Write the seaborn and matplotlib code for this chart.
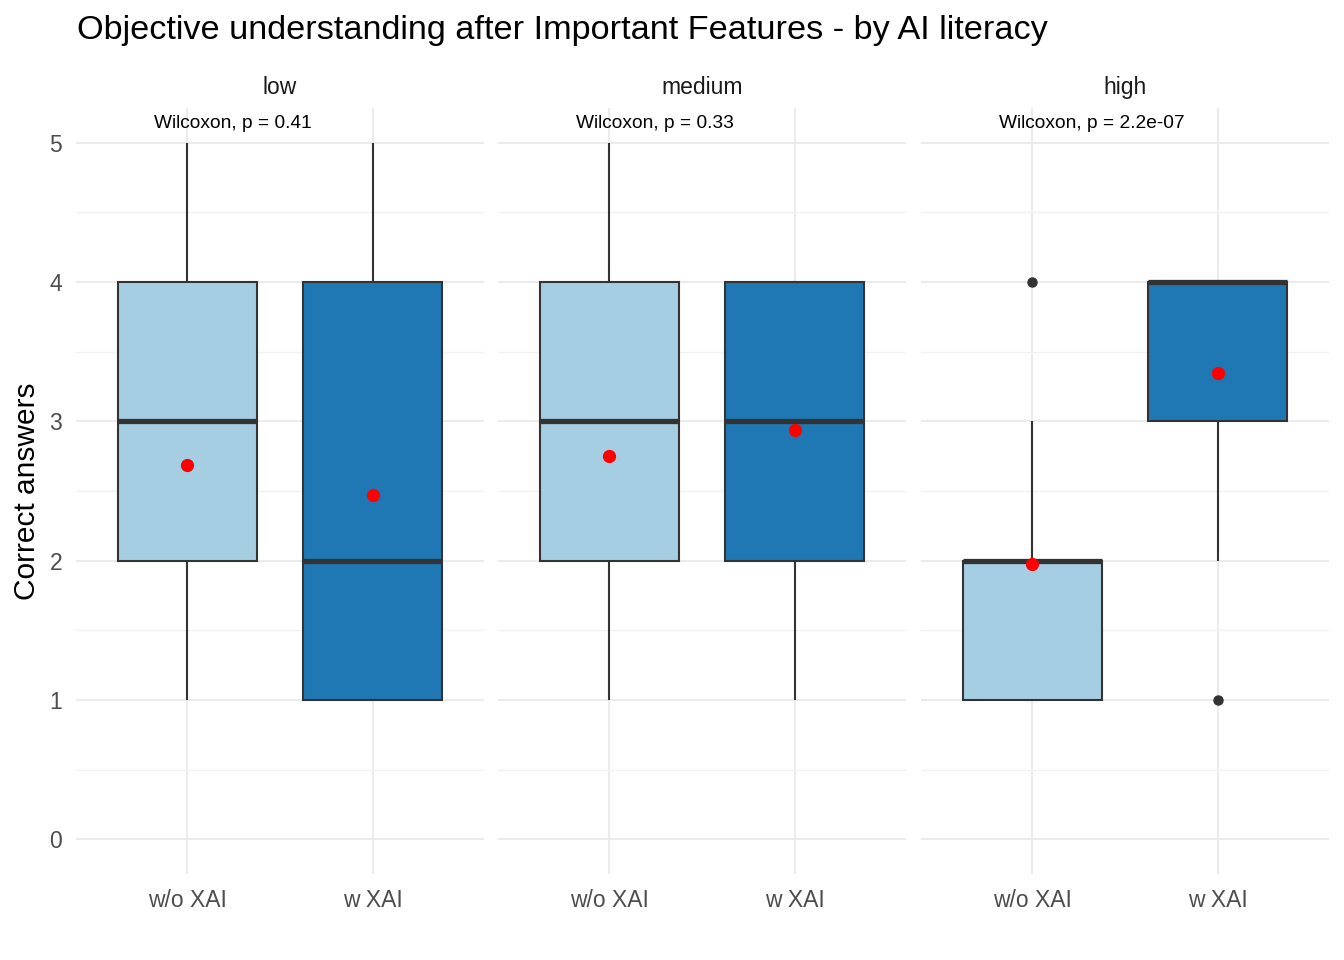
import numpy as np
import pandas as pd
import seaborn as sns
from matplotlib import pyplot as plt
from matplotlib.ticker import MultipleLocator

scores = [1, 2, 3, 4, 5]
literacy = ["low", "medium", "high"]
conditions = ["w/o XAI", "w XAI"]
counts_low_wo = [6, 8, 9, 8, 1]
counts_low_w = [9, 9, 5, 8, 1]
counts_med_wo = [5, 9, 8, 9, 1]
counts_med_w = [3, 8, 9, 12, 0]
counts_high_wo = [11, 20, 8, 1, 0]
counts_high_w = [1, 5, 13, 21, 0]
p_values = ["0.41", "0.33", "2.2e-07"]

palette = ["#A6CEE3", "#1F78B4"]

counts = {
    ("low", "w/o XAI"): counts_low_wo, ("low", "w XAI"): counts_low_w,
    ("medium", "w/o XAI"): counts_med_wo, ("medium", "w XAI"): counts_med_w,
    ("high", "w/o XAI"): counts_high_wo, ("high", "w XAI"): counts_high_w,
}
rows = []
for (lit, cond), c in counts.items():
    for v in np.repeat(scores, c):
        rows.append({"literacy": lit, "condition": cond, "correct": v})
df = pd.DataFrame(rows)

sns.set_theme(style="white")
plt.rcParams["font.family"] = ["Liberation Sans", "DejaVu Sans"]

fig = plt.figure(figsize=(13.44, 9.6), dpi=100)
W, H = 1344, 960
lefts = [76, 498, 921]
pw = 408
top, bottom = 108, 874

for i, lit in enumerate(literacy):
    ax = fig.add_axes([lefts[i] / W, 1 - bottom / H, pw / W, (bottom - top) / H])
    sub = df[df["literacy"] == lit]
    sns.boxplot(data=sub, x="condition", y="correct", hue="condition",
                order=conditions, hue_order=conditions, palette=palette,
                saturation=1, width=0.75, linecolor="#333333", linewidth=1.5,
                legend=False, showcaps=False, showmeans=True,
                medianprops=dict(linewidth=3.8, color="#333333"),
                meanprops=dict(marker="o", markerfacecolor="red", markeredgecolor="red",
                               markersize=8.5),
                flierprops=dict(marker="o", markerfacecolor="#333333",
                                markeredgecolor="#333333", markersize=6.5),
                ax=ax, zorder=3)
    ax.set_xlim(-0.6, 1.6)
    ax.set_ylim(-0.25, 5.25)
    ax.yaxis.set_major_locator(MultipleLocator(1))
    ax.yaxis.set_minor_locator(MultipleLocator(0.5))
    ax.grid(which="major", color="#EBEBEB", linewidth=1.5, zorder=0)
    ax.grid(which="minor", axis="y", color="#F2F2F2", linewidth=1.0, zorder=0)
    ax.set_axisbelow(True)
    for s in ax.spines.values():
        s.set_visible(False)
    ax.tick_params(axis="both", length=0, labelsize=16.5, colors="#4D4D4D")
    ax.tick_params(axis="x", pad=11)
    ax.tick_params(axis="y", pad=10)
    ax.set_xlabel("")
    ax.set_ylabel("")
    if i > 0:
        ax.set_yticklabels([])
    ax.text(0.5, 1 + 14 / (bottom - top), lit, transform=ax.transAxes,
            ha="center", va="baseline", fontsize=16.5, color="#1A1A1A")
    ax.text(-0.18, 5.105, f"Wilcoxon, p = {p_values[i]}", ha="left", va="baseline",
            fontsize=13.8, color="black")

fig.text(77 / W, 1 - 31 / H, "Objective understanding after Important Features - by AI literacy",
         ha="left", va="center", fontsize=24.7, color="black")
fig.text(27 / W, 1 - 491 / H, "Correct answers", rotation=90, ha="center", va="center",
         fontsize=21.5, color="black")

fig.savefig("out.png", dpi=100)
